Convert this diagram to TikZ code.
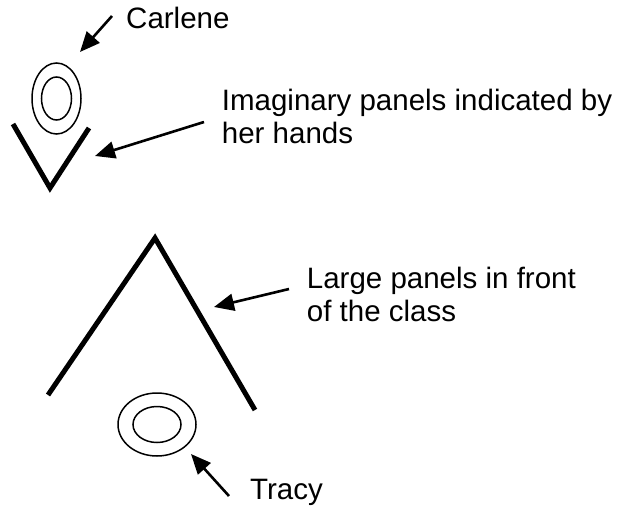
\documentclass[tikz,border=0pt]{standalone}
\usepackage{fontspec}
\setmainfont{Liberation Sans}
\usepackage{tikz}
\usetikzlibrary{shapes.geometric, arrows.meta}
\tikzstyle{person}  = [ellipse, draw=black, line width=1.5pt, inner sep=0pt]
\tikzstyle{panel}   = [line width=5pt, miter limit=20]
\tikzstyle{label}   = [anchor=base west, inner sep=0pt, align=left,
                       font=\fontsize{29.5}{32.5}\selectfont]
\tikzstyle{arrow}   = [line width=2.6pt, -{Triangle[length=20pt, width=17pt]}]

\begin{document}
\begin{tikzpicture}[x=1pt, y=-1pt]
  \useasboundingbox (0,0) rectangle (626,506);

  % Carlene and her hands
  \node (carlene)  [person, minimum width=49pt, minimum height=71pt] at (56.5,98.5) {};
  \node (carleneH) [person, minimum width=30pt, minimum height=43pt] at (56.5,98.5) {};
  \draw[panel] (13,124) -- (50,188) coordinate (hands) -- (89,128);

  % Panels at the front
  \draw[panel] (48,395) -- (155,238) coordinate (apex) -- (255,410);

  % Tracy
  \node (tracy)  [person, minimum width=78pt, minimum height=63pt] at (157,424.5) {};
  \node (tracyH) [person, minimum width=48pt, minimum height=36pt] at (157,424.5) {};

  % Labels (base = last line)
  \node (lcarlene) [label] at (126,28)     {Carlene};
  \node (lhands)   [label] at (221.7,143.3) {Imaginary panels indicated by\\her hands};
  \node (lpanels)  [label] at (306.7,321)   {Large panels in front\\of the class};
  \node (ltracy)   [label] at (250,499.3)   {Tracy};

  % Pointers
  \coordinate (fromC) at (112,16);   \coordinate (tipC) at (80,52);
  \coordinate (fromH) at (204,122);  \coordinate (tipH) at (95,156);
  \coordinate (fromP) at (289,289);  \coordinate (tipP) at (214,307);
  \coordinate (fromT) at (229,496);  \coordinate (tipT) at (191,454);
  \draw[arrow] (fromC) -- (tipC);
  \draw[arrow] (fromH) -- (tipH);
  \draw[arrow] (fromP) -- (tipP);
  \draw[arrow] (fromT) -- (tipT);

\end{tikzpicture}
\end{document}
